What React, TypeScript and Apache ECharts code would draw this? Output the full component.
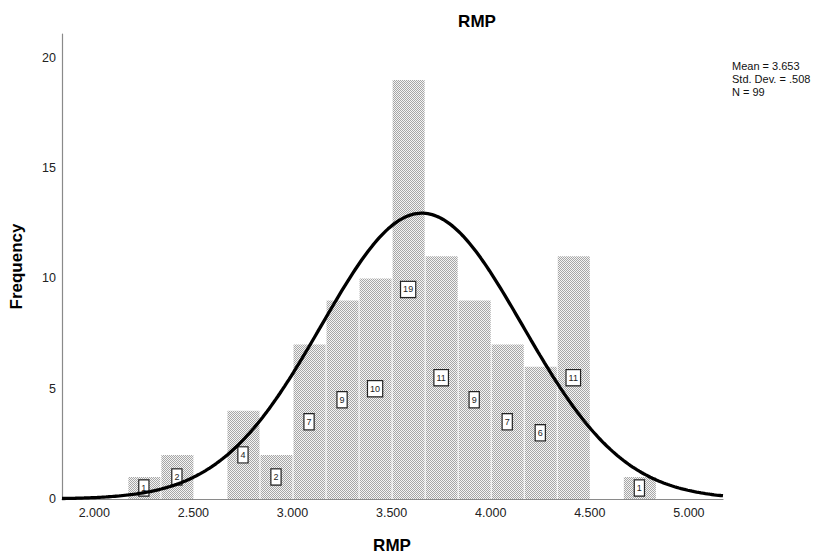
import React, { useEffect, useRef } from "react";
import * as echarts from "echarts";

// ---- Data ----
const CHART_TITLE = "RMP";
const X_AXIS_NAME = "RMP";
const Y_AXIS_NAME = "Frequency";
const BIN_WIDTH = 1 / 6;
const BIN_STARTS = [2.1667, 2.3333, 2.5, 2.6667, 2.8333, 3.0, 3.1667, 3.3333, 3.5, 3.6667, 3.8333, 4.0, 4.1667, 4.3333, 4.5, 4.6667];
const BIN_COUNTS = [1, 2, 0, 4, 2, 7, 9, 10, 19, 11, 9, 7, 6, 11, 0, 1];
const X_TICKS = [2.0, 2.5, 3.0, 3.5, 4.0, 4.5, 5.0];
const Y_TICKS = [0, 5, 10, 15, 20];
const X_MIN = 1.837;
const X_MAX = 5.172;
const Y_MIN = 0;
const Y_MAX = 21.08;
const STAT_MEAN = 3.653;
const STAT_SD = 0.508;
const STAT_N = 99;
const STATS_LINES = ["Mean = 3.653", "Std. Dev. = .508", "N = 99"];

const FONT = 'Arial, "Liberation Sans", Helvetica, sans-serif';

export default function App() {
  const ref = useRef<HTMLDivElement>(null);

  useEffect(() => {
    document.body.style.margin = "0";
    if (!ref.current) return;
    const chart = echarts.init(ref.current, undefined, { renderer: "svg" });

    // checker dot pattern used by the bars
    const cv = document.createElement("canvas");
    cv.width = 2;
    cv.height = 2;
    const ctx = cv.getContext("2d")!;
    ctx.fillStyle = "#f4f4f4";
    ctx.fillRect(0, 0, 2, 2);
    ctx.fillStyle = "#a6a6a6";
    ctx.fillRect(0, 0, 1, 1);
    ctx.fillRect(1, 1, 1, 1);
    const pattern: any = {
      image: cv.toDataURL(),
      imageWidth: 2,
      imageHeight: 2,
      repeat: "repeat",
    };

    const binData = BIN_STARTS.map((s, i) => [s, s + BIN_WIDTH, BIN_COUNTS[i]]);

    // fitted normal curve defined by the displayed statistics
    const peak = (STAT_N * BIN_WIDTH) / (STAT_SD * Math.sqrt(2 * Math.PI));
    const curve: number[][] = [];
    const steps = 300;
    for (let i = 0; i <= steps; i++) {
      const x = X_MIN + ((X_MAX - X_MIN) * i) / steps;
      const z = (x - STAT_MEAN) / STAT_SD;
      curve.push([x, peak * Math.exp(-0.5 * z * z)]);
    }

    const option: any = {
      animation: false,
      backgroundColor: "#ffffff",
      grid: { left: 62, right: 99, top: 34, bottom: 57, outerBoundsMode: "none" },
      xAxis: {
        type: "value",
        min: X_MIN,
        max: X_MAX,
        axisLine: { show: true, onZero: false, lineStyle: { color: "#8a8a8a", width: 1.2 } },
        axisTick: { show: false },
        splitLine: { show: false },
        axisLabel: {
          customValues: X_TICKS,
          formatter: (v: number) => v.toFixed(3),
          color: "#222",
          fontSize: 12.5,
          fontFamily: FONT,
          margin: 7,
        },
      },
      yAxis: {
        type: "value",
        min: Y_MIN,
        max: Y_MAX,
        axisLine: { show: true, lineStyle: { color: "#8a8a8a", width: 1.2 } },
        axisTick: { show: false },
        splitLine: { show: false },
        axisLabel: {
          customValues: Y_TICKS,
          formatter: (v: number) => String(v),
          color: "#222",
          fontSize: 12.5,
          fontFamily: FONT,
          margin: 6,
          padding: [5, 0, 0, 0],
        },
      },
      series: [
        {
          type: "custom",
          data: binData,
          z: 2,
          encode: { x: [0, 1], y: 2 },
          renderItem: (params: any, api: any) => {
            const lo = api.value(0);
            const hi = api.value(1);
            const c = api.value(2);
            if (!c) return { type: "group", children: [] };
            const p0 = api.coord([lo, c]);
            const p1 = api.coord([hi, 0]);
            const mid = api.coord([(lo + hi) / 2, c / 2]);
            return {
              type: "group",
              children: [
                {
                  type: "rect",
                  shape: { x: p0[0] + 1, y: p0[1], width: p1[0] - p0[0] - 1, height: p1[1] - p0[1] },
                  style: { fill: pattern },
                },
                {
                  type: "text",
                  x: mid[0],
                  y: mid[1],
                  style: {
                    text: String(c),
                    align: "center",
                    verticalAlign: "middle",
                    textAlign: "center",
                    textVerticalAlign: "middle",
                    fontSize: 9,
                    fontFamily: FONT,
                    fill: "#222",
                    backgroundColor: "#ffffff",
                    borderColor: "#222",
                    borderWidth: 1.2,
                    padding: [3, 2, 3, 2],
                  },
                },
              ],
            };
          },
        },
        {
          type: "line",
          data: curve,
          z: 5,
          showSymbol: false,
          symbol: "none",
          smooth: false,
          lineStyle: { color: "#000", width: 3.3 },
        },
      ],
      graphic: [
        {
          type: "text",
          x: 477,
          y: 21,
          style: {
            text: CHART_TITLE,
            font: `bold 17px ${FONT}`,
            fill: "#000",
            align: "center",
            verticalAlign: "middle",
            textAlign: "center",
            textVerticalAlign: "middle",
          },
        },
        {
          type: "text",
          x: 392,
          y: 545,
          style: {
            text: X_AXIS_NAME,
            font: `bold 17px ${FONT}`,
            fill: "#000",
            align: "center",
            verticalAlign: "middle",
            textAlign: "center",
            textVerticalAlign: "middle",
          },
        },
        {
          type: "text",
          x: 16,
          y: 266.5,
          rotation: Math.PI / 2,
          style: {
            text: Y_AXIS_NAME,
            font: `bold 17px ${FONT}`,
            fill: "#000",
            align: "center",
            verticalAlign: "middle",
            textAlign: "center",
            textVerticalAlign: "middle",
          },
        },
        {
          type: "text",
          x: 732,
          y: 59,
          style: {
            text: STATS_LINES.join("\n"),
            font: `11px ${FONT}`,
            lineHeight: 13,
            fill: "#111",
            align: "left",
            verticalAlign: "top",
            textAlign: "left",
            textVerticalAlign: "top",
          },
        },
      ],
    };

    chart.setOption(option);
    return () => chart.dispose();
  }, []);

  return <div ref={ref} style={{ width: 822, height: 556 }} />;
}
